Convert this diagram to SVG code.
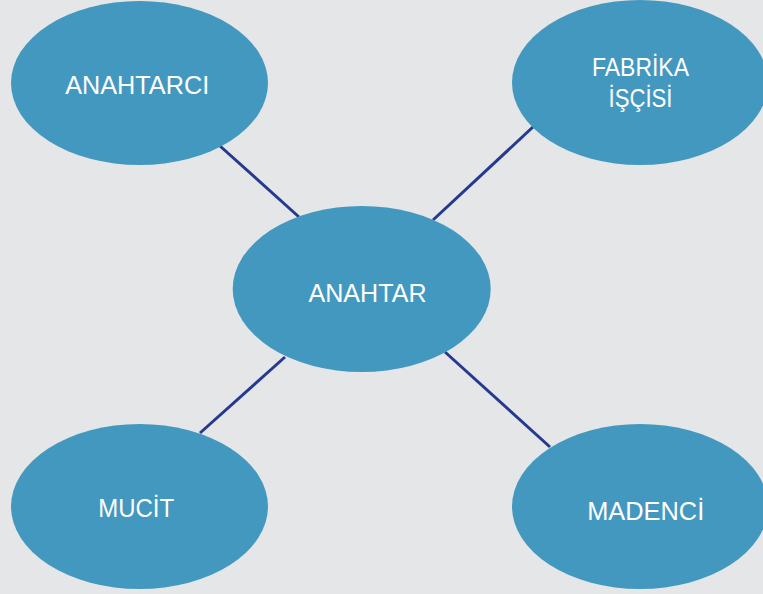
<svg xmlns="http://www.w3.org/2000/svg" width="763" height="594" viewBox="0 0 763 594">
<style>
.n{fill:#4398C0;}
.t{fill:#FFFFFF;font-family:"Liberation Sans",Arial,sans-serif;font-size:26px;text-anchor:middle;}
.c{stroke:#253A8E;stroke-width:3;fill:none;}
</style>
<rect width="763" height="594" fill="#E5E6E8"/>
<g id="connectors">
<line class="c" x1="220" y1="146" x2="299" y2="217"/>
<line class="c" x1="534" y1="126" x2="433" y2="220"/>
<line class="c" x1="285" y1="357" x2="200" y2="433"/>
<line class="c" x1="445" y1="352" x2="550" y2="447"/>
</g>
<g id="anahtarci">
<ellipse class="n" cx="139.5" cy="83" rx="128.5" ry="82"/>
<text class="t" x="137.2" y="94.3" textLength="144" lengthAdjust="spacingAndGlyphs">ANAHTARCI</text>
</g>
<g id="fabrika-iscisi">
<ellipse class="n" cx="640" cy="82.5" rx="128" ry="82.5"/>
<text class="t" x="640.5" y="76" textLength="97" lengthAdjust="spacingAndGlyphs">FABRİKA</text>
<text class="t" x="640.5" y="106.7" textLength="64" lengthAdjust="spacingAndGlyphs">İŞÇİSİ</text>
</g>
<g id="anahtar">
<ellipse class="n" cx="361.7" cy="289" rx="129" ry="83"/>
<text class="t" x="367.5" y="302.3" textLength="118" lengthAdjust="spacingAndGlyphs">ANAHTAR</text>
</g>
<g id="mucit">
<ellipse class="n" cx="139.5" cy="506.5" rx="128.5" ry="82.5"/>
<text class="t" x="136.2" y="517.3" textLength="76" lengthAdjust="spacingAndGlyphs">MUCİT</text>
</g>
<g id="madenci">
<ellipse class="n" cx="640" cy="506.5" rx="128" ry="82.5"/>
<text class="t" x="645.7" y="520" textLength="117" lengthAdjust="spacingAndGlyphs">MADENCİ</text>
</g>
</svg>
